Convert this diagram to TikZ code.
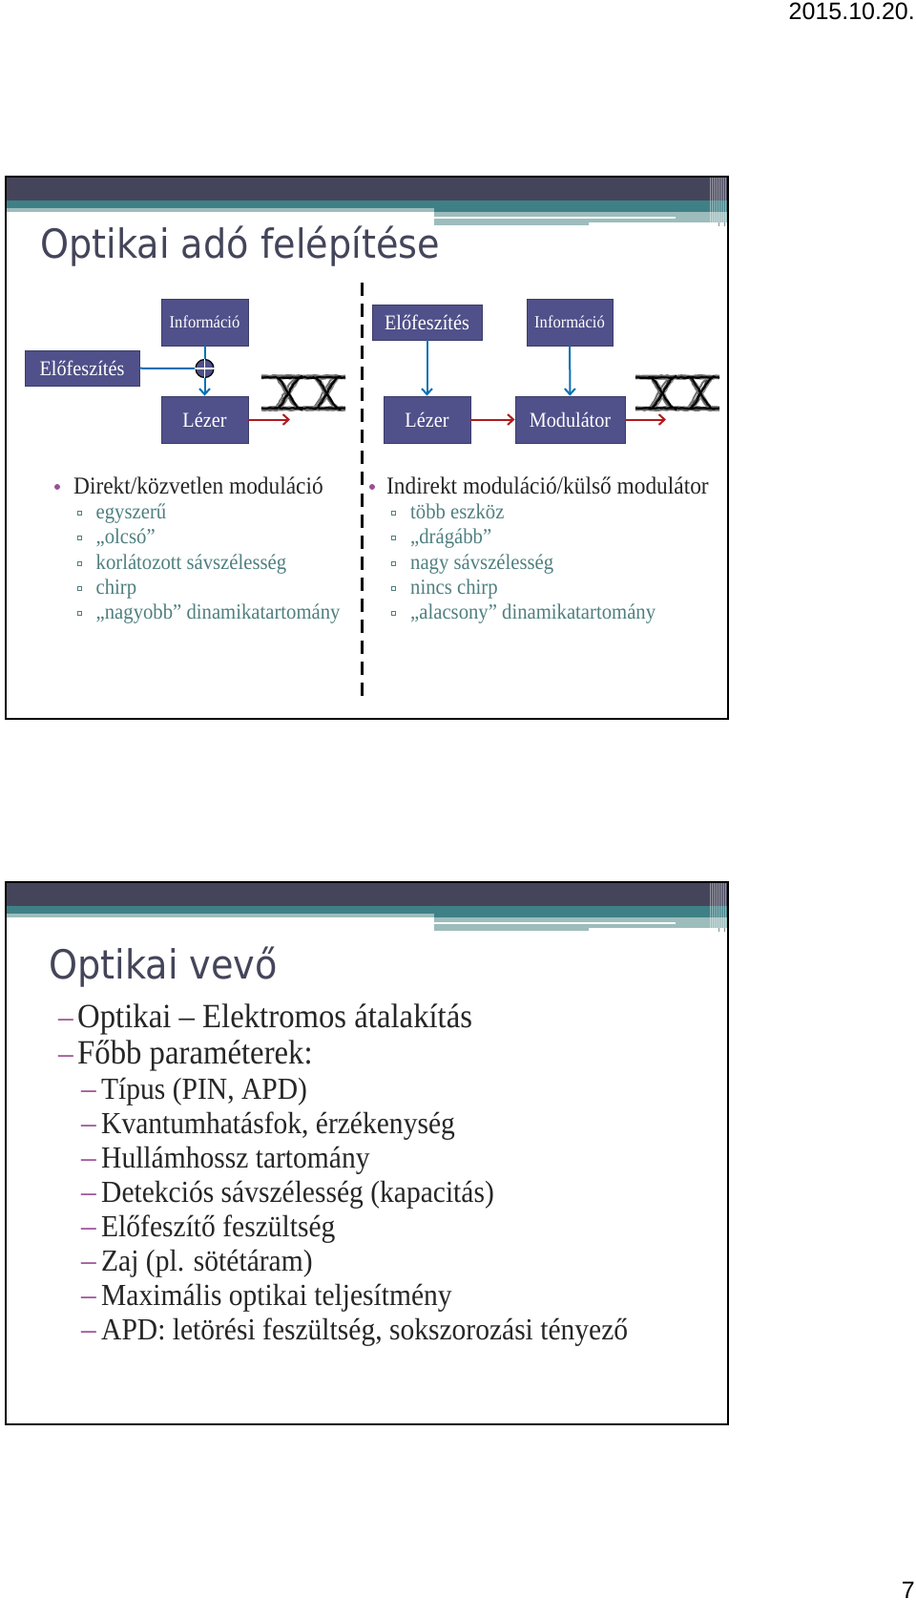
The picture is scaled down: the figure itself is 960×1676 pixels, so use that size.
\documentclass[tikz,border=0pt]{standalone}
\usepackage{fontspec}
\setmainfont[FakeStretch=0.92]{Liberation Serif}
\setsansfont{Liberation Sans}
\newfontfamily\titlefont[FakeStretch=0.91]{DejaVu Sans}
\usetikzlibrary{arrows.meta,decorations.pathmorphing}

\definecolor{bandDark}{HTML}{44455A}
\definecolor{bandTeal}{HTML}{3F8086}
\definecolor{bandLight}{HTML}{9DBCBC}
\definecolor{boxFill}{HTML}{50508A}
\definecolor{boxLine}{HTML}{3C3D6A}
\definecolor{feedBlue}{HTML}{0A70B5}
\definecolor{lightRed}{HTML}{B01C1C}
\definecolor{subText}{HTML}{4F7F80}
\definecolor{markPurple}{HTML}{9B4F96}

\tikzset{
  block/.style={draw=boxLine,fill=boxFill,line width=0.9pt,text=white,inner sep=0pt},
  feed/.style={draw=feedBlue,line width=2pt},
  feedarrow/.style={feed,-{Straight Barb[length=6pt,width=11pt,line width=2pt]}},
  light/.style={draw=lightRed,line width=2pt,-{Straight Barb[length=6pt,width=11pt,line width=2pt]}},
  slidetitle/.style={anchor=base west,text=bandDark,inner sep=0pt,font=\titlefont\fontsize{42}{46}\selectfont},
  headtext/.style={anchor=base west,inner sep=0pt,text=black!85,font=\fontsize{25.4}{28}\selectfont},
  subtext/.style={anchor=base west,inner sep=0pt,text=subText,font=\fontsize{22.5}{26}\selectfont},
  dot/.style={circle,fill=markPurple,inner sep=0pt,minimum size=6pt},
  squaremark/.style={rectangle,draw=subText,line width=0.6pt,inner sep=0pt,minimum size=3.6pt},
  paramtext/.style={anchor=base west,inner sep=0pt,text=black!85,font=\fontsize{32.1}{36}\selectfont},
  paramtop/.style={paramtext,font=\fontsize{35.6}{40}\selectfont},
  dashmark/.style={anchor=base west,inner sep=0pt,text=markPurple,font=\fontsize{34}{36}\selectfont},
  eyepattern/.pic={
    \foreach \col/\off in {black!55/-1.5,black!75/0,black!45/1.5,black/0.6}{
      \draw[\col,line width=2pt,decorate,decoration={random steps,segment length=3pt,amplitude=0.5pt}]
        (0,2+\off) -- (88,2+\off)
        (0,35-\off) -- (88,35-\off)
        (13+\off,2) .. controls (23+2*\off,2+\off) and (32+2*\off,37+\off) .. (43+\off,35)
        (13+\off,35) .. controls (23+2*\off,35+\off) and (32+2*\off,0+\off) .. (43+\off,2)
        (53+\off,35) .. controls (64+2*\off,35+\off) and (72+2*\off,0+\off) .. (83+\off,2)
        (53+\off,2) .. controls (64+2*\off,2+\off) and (72+2*\off,37+\off) .. (83+\off,35);
    }
  },
  slideframe/.pic={
    \fill[bandDark] (6,0) rectangle (763,25);
    \fill[bandTeal] (6,25) rectangle (763,37);
    \fill[white] (6,33) rectangle (455,40);
    \fill[bandLight] (6,33) rectangle (455,37);
    \fill[bandLight] (455,37) rectangle (763,48);
    \fill[bandLight] (455,48) rectangle (617,51);
    \fill[white] (455,41.5) rectangle (708,43.5);
    \foreach \i in {0,...,9}{
      \fill[white,opacity=0.45] (744+2*\i,0) rectangle ++(1,52);
    }
    \fill[white] (752,48) rectangle (763,53);
    \draw[black!20!bandLight] (753,48) -- (753,52) (759,48) -- (759,52);
    \draw[black,line width=2.4pt] (6,0) rectangle (763,568);
  }
}

\begin{document}
\begin{tikzpicture}[x=1pt,y=-1pt]
  \useasboundingbox (0,0) rectangle (960,1676);
  \fill[white] (0,0) rectangle (960,1676);

  % Frames
  \pic at (0,185) {slideframe};
  \pic at (0,924) {slideframe};

  % Page marks
  \node[anchor=north east,inner sep=0pt,font=\sffamily\fontsize{25}{27}\selectfont] (datemark) at (959,3) {2015.10.20.};
  \node[anchor=base east,inner sep=0pt,font=\sffamily\fontsize{25}{27}\selectfont] (pagemark) at (959,1674) {7};

  % Title
  \node[slidetitle] (titletx) at (42,270) {Optikai adó felépítése};
  \node[slidetitle] (titlerx) at (51,1025) {Optikai vevő};

  % Divider
  \coordinate (divtop) at (379,296);
  \coordinate (divbot) at (379,729);
  \draw[black,line width=3pt,dash pattern=on 14pt off 8.05pt] (divtop) -- (divbot);

  % Direct modulation
  \node[block,minimum width=91pt,minimum height=49pt,font=\fontsize{18}{20}\selectfont] (info) at (214.5,337.5) {Információ};
  \node[block,minimum width=120pt,minimum height=37pt,font=\fontsize{22}{24}\selectfont] (bias) at (86,385.5) {Előfeszítés};
  \node[block,minimum width=91pt,minimum height=49pt,font=\fontsize{22}{24}\selectfont] (laser) at (214.5,439.5) {Lézer};
  \node[circle,draw=black,fill=boxFill,line width=1.2pt,inner sep=0pt,minimum size=19pt] (sum) at (214.5,386) {};
  \coordinate (laserend) at (304,439.5);
  \draw[feed] (info) -- (sum);
  \draw[feed] (bias) -- (sum);
  \draw[white,line width=1.1pt] (sum.north) -- (sum.south) (sum.west) -- (sum.east);
  \draw[feedarrow] (sum) -- (laser);
  \draw[light] (laser) -- (laserend);
  \pic at (274,393) {eyepattern};

  % External modulator
  \node[block,minimum width=115pt,minimum height=37pt,font=\fontsize{22}{24}\selectfont] (biasb) at (447.5,337.5) {Előfeszítés};
  \node[block,minimum width=90pt,minimum height=49pt,font=\fontsize{18}{20}\selectfont] (infob) at (597,337.5) {Információ};
  \node[block,minimum width=91pt,minimum height=49pt,font=\fontsize{22}{24}\selectfont] (laserb) at (447.5,439.5) {Lézer};
  \node[block,minimum width=115pt,minimum height=49pt,font=\fontsize{22}{24}\selectfont] (modulator) at (597.5,439.5) {Modulátor};
  \coordinate (modend) at (698,439.5);
  \draw[feedarrow] (biasb) -- (laserb);
  \draw[feedarrow] (infob) -- (modulator);
  \draw[light] (laserb) -- (modulator);
  \draw[light] (modulator) -- (modend);
  \pic at (666,393) {eyepattern};

  % Left list
  \node[dot] (dotl) at (60,510) {};
  \node[headtext] (headl) at (77,517.5) {Direkt/közvetlen moduláció};
  \foreach \nm/\yy/\txt in {a/543.5/egyszerű,b/569.5/{„olcsó”},c/596/korlátozott sávszélesség,d/622/chirp,e/648/{„nagyobb” dinamikatartomány}}{
    \node[squaremark] (marka\nm) at (83.5,\yy-6) {};
    \node[subtext] (subl\nm) at (100.5,\yy) {\txt};
  }

  % Right list
  \node[dot] (dotr) at (390,510) {};
  \node[headtext] (headr) at (405,517.5) {Indirekt moduláció/külső modulátor};
  \foreach \nm/\yy/\txt in {a/543.5/több eszköz,b/569.5/{„drágább”},c/596/nagy sávszélesség,d/622/nincs chirp,e/648/{„alacsony” dinamikatartomány}}{
    \node[squaremark] (markb\nm) at (412,\yy-6) {};
    \node[subtext] (subr\nm) at (430,\yy) {\txt};
  }

  % Receiver list
  \foreach \nm/\yy/\txt in {a/1076/Optikai -- Elektromos átalakítás,b/1114/Főbb paraméterek:}{
    \node[dashmark] (dashp\nm) at (61,\yy) {--};
    \node[paramtop] (parp\nm) at (81,\yy) {\txt};
  }
  \foreach \nm/\yy/\txt in {a/1151/{Típus (PIN, APD)},b/1187/{Kvantumhatásfok, érzékenység},c/1223/Hullámhossz tartomány,d/1259/Detekciós sávszélesség (kapacitás),e/1295/Előfeszítő feszültség,f/1331/Zaj (pl. sötétáram),g/1367/Maximális optikai teljesítmény,h/1403/{APD: letörési feszültség, sokszorozási tényező}}{
    \node[dashmark] (dashq\nm) at (85,\yy) {--};
    \node[paramtext] (parq\nm) at (106,\yy) {\txt};
  }
\end{tikzpicture}
\end{document}
